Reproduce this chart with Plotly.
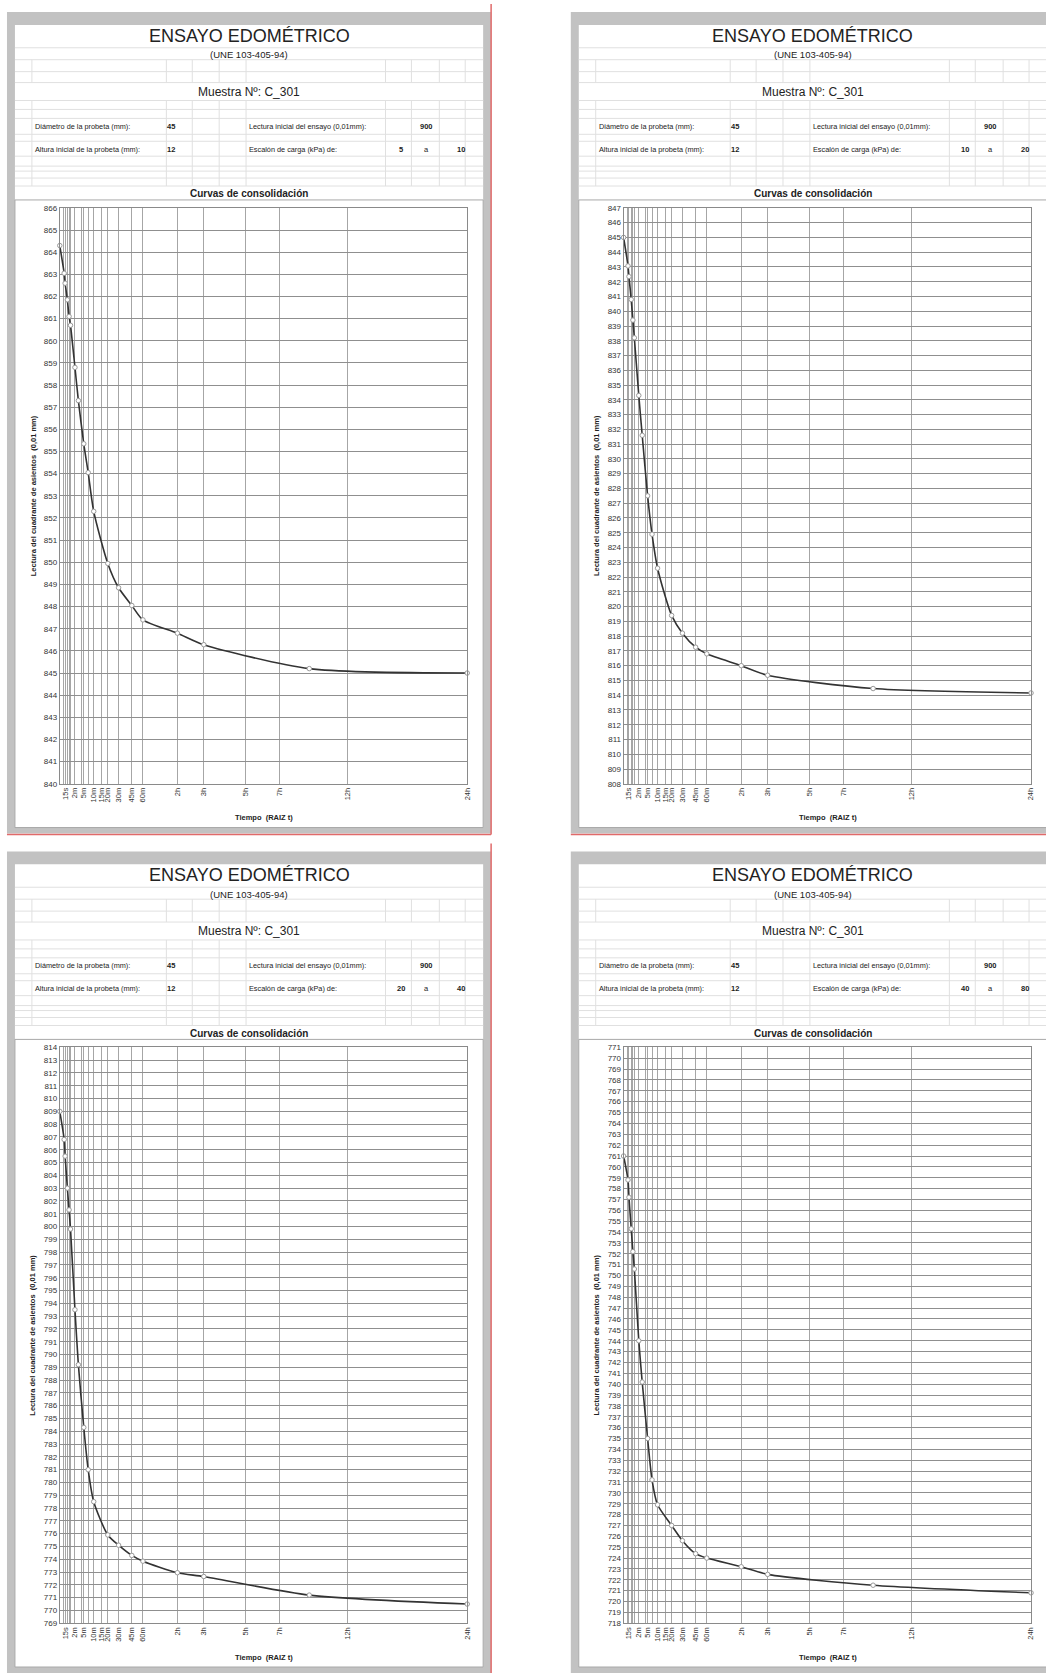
import numpy as np
import plotly.graph_objects as go

W, H = 1046, 1673
FONT = "Arial, Liberation Sans, sans-serif"

# Reading times (minutes) of each load step
tiempos = [0, 10/60, 15/60, 30/60, 45/60, 1, 2, 3, 5, 7, 10, 20, 30, 45, 60, 120, 180, 540, 1440]

# Dial readings (0.01 mm) for each load step
lect_5_10 = [864.3, 863.05, 862.6, 861.85, 861.1, 860.7, 858.8, 857.3, 855.35, 854.05,
             852.3, 849.95, 848.85, 848.05, 847.4, 846.8, 846.28, 845.2, 845.0]
lect_10_20 = [845.0, 843.07, 842.35, 840.8, 839.4, 838.2, 834.3, 831.6, 827.5, 824.9,
              822.6, 819.4, 818.2, 817.25, 816.8, 816.0, 815.35, 814.45, 814.15]
lect_20_40 = [809.0, 806.8, 805.5, 803.0, 801.3, 799.8, 793.5, 789.2, 784.3, 781.0,
              778.5, 775.9, 775.1, 774.3, 773.85, 772.95, 772.65, 771.2, 770.5]
lect_40_80 = [761.0, 758.8, 757.2, 754.3, 752.2, 750.6, 744.0, 740.2, 735.0, 731.2,
              728.9, 727.0, 725.6, 724.4, 724.0, 723.2, 722.5, 721.5, 720.8]

# Vertical grid of the time axis (minutes) and its labels
grid_t = [0.1, 0.25, 0.5, 0.75, 1, 2, 4, 5, 7, 10, 15, 20, 30, 45, 60, 120, 180, 300, 420, 720, 1440]
grid_lbl = ['', '15s', '', '', '', '2m', '', '5m', '', '10m', '15m', '20m', '30m', '45m', '60m',
            '2h', '3h', '5h', '7h', '12h', '24h']

# Load steps (kPa), value ranges of the reading axis
escalones = [(5, 10), (10, 20), (20, 40), (40, 80)]
rangos_y = [(840, 866), (808, 847), (769, 814), (718, 771)]
lecturas = [lect_5_10, lect_10_20, lect_20_40, lect_40_80]

diametro, altura, lectura_inicial, muestra = 45, 12, 900, "C_301"

# Sheet placement on the page (pixel offsets of each sheet)
offsets = [(0, 0), (566, 0), (0, 844), (566, 844)]


def px(x):
    return x / W


def py(y):
    return 1 - y / H


fig = go.Figure()
shapes, annotations = [], []


def rect(x0, y0, x1, y1, fill=None, line=None, lw=1):
    shapes.append(dict(type="rect", xref="paper", yref="paper", x0=px(x0), x1=px(x1),
                       y0=py(y1), y1=py(y0), fillcolor=fill or "rgba(0,0,0,0)",
                       line=dict(color=line or "rgba(0,0,0,0)", width=lw if line else 0),
                       layer="below"))


def seg(x0, y0, x1, y1, color, lw=1, layer="below"):
    shapes.append(dict(type="line", xref="paper", yref="paper", x0=px(x0), x1=px(x1),
                       y0=py(y0), y1=py(y1), line=dict(color=color, width=lw), layer=layer))


def text(x, y, s, size, bold=False, anchor="center", color="#222", angle=0):
    annotations.append(dict(xref="paper", yref="paper", x=px(x), y=py(y),
                            text=f"<b>{s}</b>" if bold else s, showarrow=False,
                            xanchor=anchor, yanchor="middle", textangle=angle,
                            font=dict(family=FONT, size=size, color=color)))


grid_x = np.sqrt(np.array(grid_t))
x_max = np.sqrt(1440)

for i, ((dx, dy), (c0, c1), (y0, y1), lect) in enumerate(zip(offsets, escalones, rangos_y, lecturas)):
    # window frame, sheet and chart area
    rect(7 + dx, 8 + dy, 493 + dx, 834 + dy, fill="#c2c2c2")
    rect(15 + dx, 21 + dy, 485 + dx, 828 + dy, fill="#ffffff")
    # spreadsheet cell grid of the header
    for hy in [44, 56, 68, 79, 97, 106, 115, 131, 138, 153, 163, 168, 175, 183]:
        seg(15 + dx, hy + dy, 485 + dx, hy + dy, "#e0e0e0")
    for vx in [32, 167, 193, 220, 247, 387, 413, 441, 467]:
        seg(vx + dx, 56 + dy, vx + dx, 79 + dy, "#e0e0e0")
        seg(vx + dx, 97 + dy, vx + dx, 183 + dy, "#e0e0e0")
    rect(15 + dx, 197 + dy, 485 + dx, 828 + dy, fill="#ffffff", line="#a8a8a8")
    # page break markers
    seg(493 + dx, 0 + dy, 493 + dx, 835 + dy, "#e06a6a", 1.5, "above")
    seg(7 + dx, 835 + dy, 493 + dx, 835 + dy, "#e06a6a", 1.5, "above")

    # header texts
    text(250 + dx, 32 + dy, "ENSAYO EDOMÉTRICO", 18)
    text(250 + dx, 51 + dy, "(UNE 103-405-94)", 9.5)
    text(250 + dx, 88 + dy, f"Muestra Nº: {muestra}", 12)
    text(33 + dx, 123 + dy, "Diámetro de la probeta (mm):", 7.3, anchor="left")
    text(166 + dx, 123 + dy, str(diametro), 7.5, bold=True, anchor="left")
    text(248 + dx, 123 + dy, "Lectura inicial del ensayo (0,01mm):", 7.3, anchor="left")
    text(428 + dx, 123 + dy, str(lectura_inicial), 7.5, bold=True)
    text(33 + dx, 146 + dy, "Altura inicial de la probeta (mm):", 7.3, anchor="left")
    text(166 + dx, 146 + dy, str(altura), 7.5, bold=True, anchor="left")
    text(248 + dx, 146 + dy, "Escalón de carga (kPa) de:", 7.3, anchor="left")
    text(403 + dx, 146 + dy, str(c0), 7.5, bold=True)
    text(428 + dx, 146 + dy, "a", 7.5)
    text(469 + dx, 146 + dy, str(c1), 7.5, bold=True, anchor="right")
    text(250 + dx, 191 + dy, "Curvas de consolidación", 10, bold=True)

    # axis titles
    text(33 + dx, 494 + dy, "Lectura del cuadrante de asientos  (0,01 mm)", 7.5, bold=True, angle=-90)
    text(265 + dx, 818 + dy, "Tiempo  (RAIZ t)", 7.5, bold=True)

    n = "" if i == 0 else str(i + 1)
    xa, ya = "xaxis" + n, "yaxis" + n
    fig.add_trace(go.Scatter(
        x=np.sqrt(np.array(tiempos)), y=lect, mode="lines+markers",
        line=dict(color="#333333", width=1.6, shape="spline", smoothing=0.7),
        marker=dict(size=4.5, color="#ffffff", line=dict(color="#9a9a9a", width=1)),
        cliponaxis=False, showlegend=False,
        xaxis="x" + n, yaxis="y" + n))
    fig.layout[xa] = dict(
        domain=[px(60 + dx), px(469 + dx)], range=[0, x_max], anchor="y" + n,
        tickmode="array", tickvals=grid_x, ticktext=grid_lbl, tickangle=-90,
        showgrid=True, gridcolor="#a6a6a6", gridwidth=1, zeroline=False,
        showline=True, linecolor="#8a8a8a", mirror=True, ticks="",
        tickfont=dict(family=FONT, size=7.5, color="#333"), fixedrange=True)
    fig.layout[ya] = dict(
        domain=[py(784 + dy), py(205 + dy)], range=[y0, y1], anchor="x" + n,
        dtick=1, tick0=y0, showgrid=True, gridcolor="#8f8f8f", gridwidth=1, zeroline=False,
        showline=True, linecolor="#8a8a8a", mirror=True, ticks="",
        tickfont=dict(family=FONT, size=8, color="#333"), fixedrange=True)

fig.update_layout(
    width=W, height=H, margin=dict(l=0, r=0, t=0, b=0),
    paper_bgcolor="#ffffff", plot_bgcolor="rgba(0,0,0,0)",
    shapes=shapes, annotations=annotations, showlegend=False)

fig.write_html("out.html")
